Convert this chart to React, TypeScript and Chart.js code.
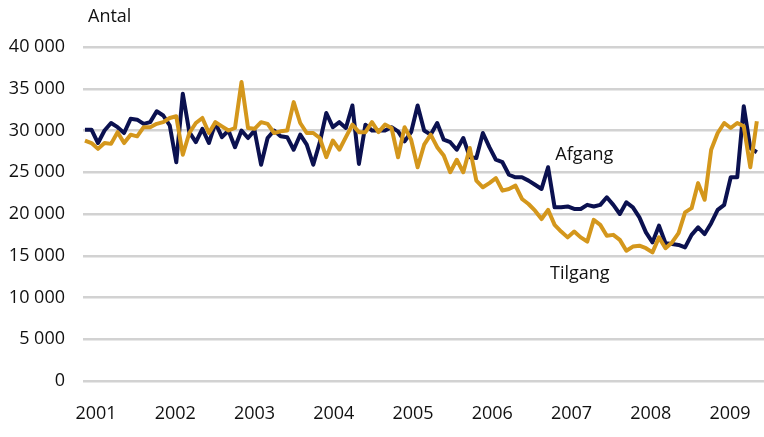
import React, { useEffect, useRef } from 'react';
import { Chart, registerables } from 'chart.js';

Chart.register(...registerables);

const yearLabels = ['2001', '2002', '2003', '2004', '2005', '2006', '2007', '2008', '2009'];

// Monthly values, Jan 2001 – Aug 2009
const afgang = [
  30100, 30100, 28500, 30000, 30900, 30400, 29700, 31400, 31300, 30800,
  31000, 32300, 31800, 30600, 26200, 34400, 29800, 28600, 30200, 28500,
  30900, 29200, 30000, 28000, 30000, 29100, 30000, 25900, 29100, 30000,
  29300, 29200, 27700, 29500, 28300, 25900, 28600, 32100, 30400, 31000,
  30300, 33000, 26000, 30700, 30000, 30000, 30000, 30400, 29900, 28700,
  29800, 33000, 30000, 29500, 30900, 28900, 28600, 27700, 29100, 26800,
  26700, 29700, 28000, 26500, 26200, 24700, 24400, 24400, 24000, 23500,
  23000, 25600, 20800, 20800, 20900, 20600, 20600, 21100, 20900, 21100,
  22000, 21100, 20000, 21400, 20800, 19600, 17800, 16600, 18600, 16500,
  16400, 16300, 16000, 17500, 18400, 17600, 18900, 20500, 21100, 24400,
  24400, 32900, 27900, 27400,
];

const tilgang = [
  28800, 28500, 27800, 28500, 28400, 29800, 28500, 29500, 29300, 30400,
  30400, 30800, 31000, 31500, 31700, 27100, 29700, 30900, 31500, 29700,
  31000, 30500, 30000, 30300, 35800, 30300, 30200, 31000, 30800, 29700,
  29900, 30000, 33400, 30900, 29700, 29700, 29100, 26800, 28800, 27700,
  29200, 30700, 29800, 29800, 31000, 29800, 30700, 30300, 26800, 30400,
  28900, 25600, 28300, 29500, 28000, 27000, 25000, 26500, 25000, 27900,
  24000, 23200, 23700, 24300, 22800, 23000, 23400, 21800, 21200, 20400,
  19400, 20500, 18700, 17900, 17200, 17900, 17200, 16700, 19300, 18700,
  17400, 17500, 16900, 15600, 16100, 16200, 15900, 15400, 17200, 15900,
  16600, 17700, 20200, 20700, 23700, 21700, 27700, 29700, 30900, 30300,
  30900, 30500, 25600, 31100,
];

const FONT = "'Open Sans', 'DejaVu Sans', sans-serif";
const NAVY = '#0b1150';
const GOLD = '#d4971c';

const fmt = (v: number) => String(v).replace(/\B(?=(\d{3})+(?!\d))/g, ' ');

const labelPlugin = {
  id: 'textLabels',
  afterDatasetsDraw(chart: any, _args: any, opts: any) {
    const { ctx, chartArea, scales } = chart;
    ctx.save();
    ctx.font = `18px ${FONT}`;
    ctx.fillStyle = '#111';
    ctx.textBaseline = 'middle';
    ctx.textAlign = 'left';
    ctx.fillText(opts.unit, chartArea.left + 5, 17);
    for (const l of opts.series) {
      ctx.fillText(l.text, scales.x.getPixelForValue(l.x), scales.y.getPixelForValue(l.y));
    }
    ctx.restore();
  },
};

export default function App() {
  const ref = useRef<HTMLCanvasElement | null>(null);

  useEffect(() => {
    if (!ref.current) return;
    const chart = new Chart(ref.current, {
      type: 'line',
      data: {
        datasets: [
          {
            label: 'Tilgang',
            data: tilgang.map((v, i) => ({ x: i, y: v })),
            borderColor: GOLD,
            borderWidth: 4,
            pointRadius: 0,
            tension: 0,
            borderJoinStyle: 'round',
            fill: false,
          },
          {
            label: 'Afgang',
            data: afgang.map((v, i) => ({ x: i, y: v })),
            borderColor: NAVY,
            borderWidth: 4,
            pointRadius: 0,
            tension: 0,
            borderJoinStyle: 'round',
            fill: false,
          },
        ],
      },
      options: {
        animation: false,
        responsive: false,
        devicePixelRatio: 1,
        layout: { padding: { top: 47, right: 0, bottom: 12, left: 0 } },
        plugins: {
          legend: { display: false },
          tooltip: { enabled: false },
          textLabels: {
            unit: 'Antal',
            series: [
              { text: 'Afgang', x: 72.1, y: 27070 },
              { text: 'Tilgang', x: 71.3, y: 12800 },
            ],
          },
        } as any,
        scales: {
          x: {
            type: 'linear',
            min: -0.3,
            max: 104.1,
            grid: { display: false, drawTicks: false },
            border: { display: false },
            afterBuildTicks: (scale: any) => {
              scale.ticks = yearLabels.map((_, k) => ({ value: 1.7 + k * 12.15 }));
            },
            afterFit: (scale: any) => {
              scale.height = 44;
              scale.paddingLeft = 0;
              scale.paddingRight = 0;
            },
            ticks: {
              autoSkip: false,
              maxRotation: 0,
              padding: 22,
              color: '#111',
              font: { family: FONT, size: 18 },
              callback: (_v: any, idx: number) => yearLabels[idx],
            },
          },
          y: {
            min: 0,
            max: 40000,
            afterFit: (scale: any) => {
              scale.width = 83;
            },
            grid: { color: '#d2d2d2', lineWidth: 2.5, drawTicks: false },
            border: { display: false },
            ticks: {
              stepSize: 5000,
              padding: 18,
              color: '#111',
              font: { family: FONT, size: 18 },
              callback: (v: any) => fmt(Number(v)),
            },
          },
        },
      },
      plugins: [labelPlugin],
    });
    return () => chart.destroy();
  }, []);

  return (
    <div style={{ position: 'absolute', left: 0, top: 0, width: 764, height: 437 }}>
      <canvas ref={ref} width={764} height={437} style={{ display: 'block', width: 764, height: 437 }} />
    </div>
  );
}
